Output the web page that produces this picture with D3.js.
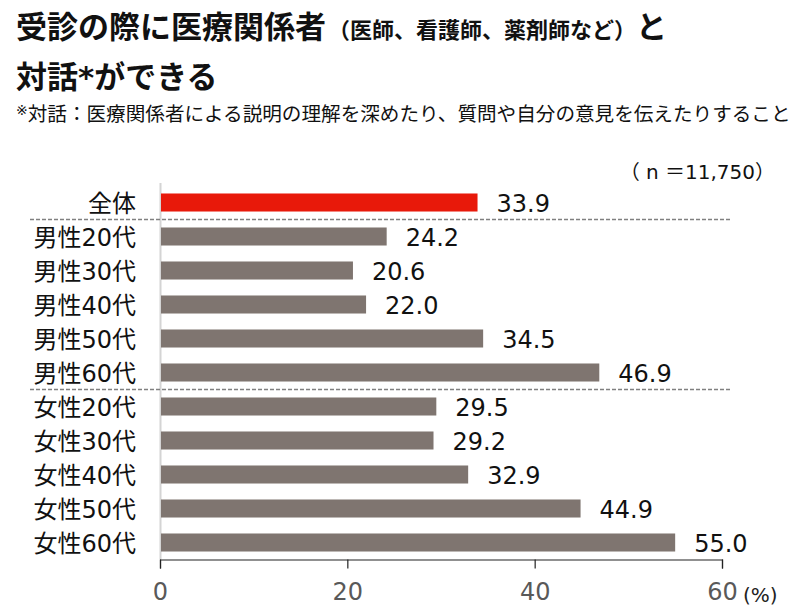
<!DOCTYPE html>
<html><head><meta charset="utf-8">
<script src="https://cdn.jsdelivr.net/npm/d3@7"></script>
<style>
body{margin:0;background:#fff;}
svg{display:block;}
text{font-family:"DejaVu Sans","Noto Sans CJK JP",sans-serif;}
</style></head>
<body>
<svg id="chart" width="800" height="616"></svg>
<script>
const categories = ["全体","男性20代","男性30代","男性40代","男性50代","男性60代","女性20代","女性30代","女性40代","女性50代","女性60代"];
const values = [33.9,24.2,20.6,22.0,34.5,46.9,29.5,29.2,32.9,44.9,55.0];
const highlight = ["全体"];
const xTicks = [0,20,40,60];
const separatorsAfter = ["全体","男性60代"];

const svg = d3.select("#chart");
const jp = '"Noto Sans CJK JP",sans-serif';

// Title
const t1 = svg.append("text").attr("x",16).attr("y",38).attr("font-family",jp).attr("font-weight","bold").attr("fill","#111");
t1.append("tspan").attr("font-size",31).text("受診の際に医療関係者");
t1.append("tspan").attr("font-size",22).attr("dx",2).text("（医師、看護師、薬剤師など）");
t1.append("tspan").attr("font-size",31).text("と");
svg.append("text").attr("x",16).attr("y",88).attr("font-family",jp).attr("font-weight","bold").attr("font-size",31).attr("fill","#111").text("対話*ができる");
const st = svg.append("text").attr("x",16).attr("y",121).attr("font-family",jp).attr("fill","#111");
st.append("tspan").attr("font-size",14).attr("dy",-6).text("※");
st.append("tspan").attr("font-size",19.6).attr("dy",6).text("対話：医療関係者による説明の理解を深めたり、質問や自分の意見を伝えたりすること");

svg.append("text").attr("x",775).attr("y",179).attr("text-anchor","end").attr("font-size",20).attr("fill","#111")
  .text("（ n ＝11,750）");

const x = d3.scaleLinear().domain([0,60]).range([160,722]);
const y = d3.scaleBand().domain(categories).range([185.5,559.5]).paddingInner(0.47).paddingOuter(0.235);

// vertical axis line
svg.append("line").attr("x1",160.5).attr("x2",160.5).attr("y1",183).attr("y2",559).attr("stroke","#d4d4d4").attr("stroke-width",2);

// bars
svg.selectAll("rect.bar").data(categories).join("rect")
  .attr("class","bar")
  .attr("x",x(0)+1)
  .attr("y",d=>y(d))
  .attr("width",(d,i)=>x(values[i])-x(0)-1)
  .attr("height",y.bandwidth())
  .attr("fill",d=>highlight.includes(d)?"#e8190a":"#7f7570");

// value labels
svg.selectAll("text.val").data(categories).join("text")
  .attr("class","val")
  .attr("x",(d,i)=>x(values[i])+19)
  .attr("y",d=>y(d)+y.bandwidth()/2+1)
  .attr("dominant-baseline","central")
  .attr("font-size",24).attr("fill","#111")
  .text((d,i)=>values[i].toFixed(1));

// category labels
svg.selectAll("text.cat").data(categories).join("text")
  .attr("class","cat")
  .attr("x",136)
  .attr("y",d=>y(d)+y.bandwidth()/2+1)
  .attr("text-anchor","end")
  .attr("dominant-baseline","central")
  .attr("font-size",24).attr("fill","#111")
  .text(d=>d);

// separators
separatorsAfter.forEach(c=>{
  const ys = y(c)+y.bandwidth()+ (y.step()-y.bandwidth())/2;
  svg.append("line").attr("x1",30).attr("x2",731).attr("y1",ys).attr("y2",ys)
    .attr("stroke","#808080").attr("stroke-width",1.5).attr("stroke-dasharray","4,2");
});

// x axis
const axis = d3.axisBottom(x).tickValues(xTicks).tickSize(9).tickPadding(14).tickFormat(d3.format("d"));
const ag = svg.append("g").attr("transform","translate(0,559.5)").call(axis);
ag.select(".domain").attr("stroke","#222").attr("stroke-width",1.2);
ag.selectAll(".tick line").attr("stroke","#222").attr("stroke-width",1.2);
ag.selectAll(".tick text").attr("font-size",24).attr("fill","#595959").attr("font-family",'"DejaVu Sans",sans-serif');
svg.append("text").attr("x",743).attr("y",602).attr("font-size",20).attr("fill","#222")
  .attr("font-family",'"Noto Sans CJK JP",sans-serif').text("(%)");
</script>
</body></html>
